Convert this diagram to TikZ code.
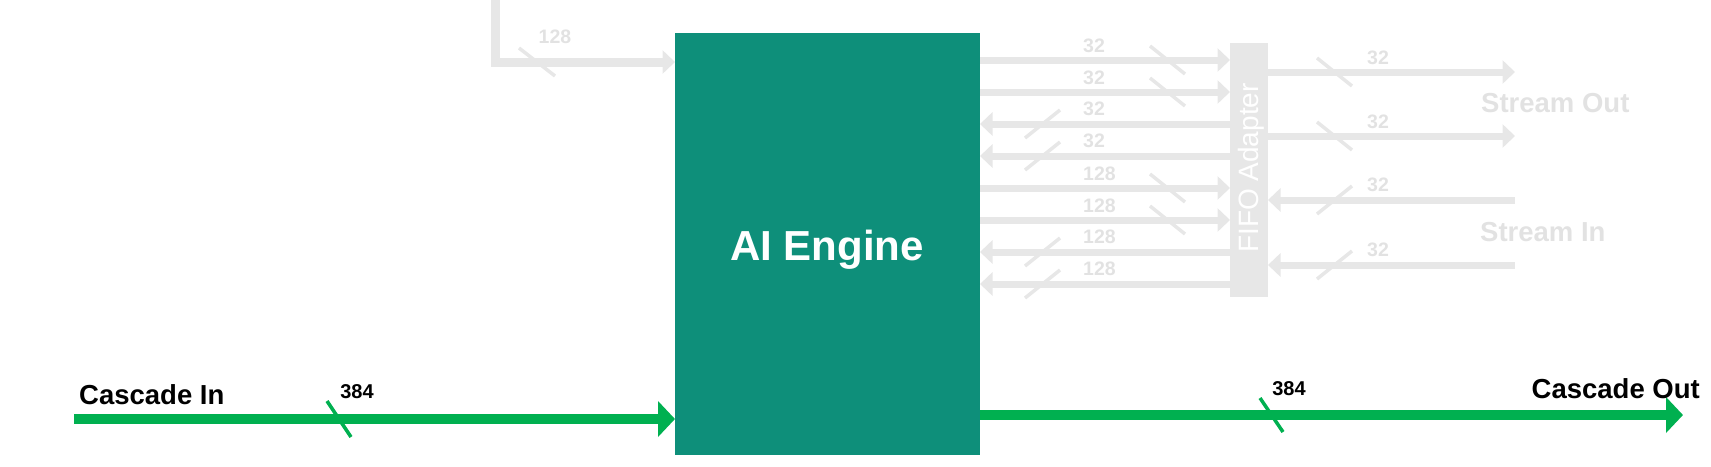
\documentclass[tikz,border=0pt]{standalone}
\usepackage{fontspec}
\setmainfont{Liberation Sans}
\usetikzlibrary{arrows.meta,calc}
\definecolor{aiteal}{RGB}{14,143,122}
\definecolor{casgreen}{RGB}{0,176,80}
\definecolor{lgray}{RGB}{231,231,231}
\definecolor{lgtext}{RGB}{226,226,226}
\begin{document}
\begin{tikzpicture}[x=1pt,y=-1pt,
  glink/.style={draw=lgray, line width=7pt},
  ghead/.style={-{Triangle[length=12.5pt,width=23pt]}},
  gslash/.style={draw=lgray, line width=3.5pt},
  glabel/.style={text=lgtext, font=\bfseries\fontsize{19.5}{20}\selectfont, inner sep=0pt},
  slabel/.style={text=lgtext, font=\bfseries\fontsize{27.5}{28}\selectfont, inner sep=0pt},
  clink/.style={draw=casgreen, line width=10pt, -{Triangle[length=17pt,width=35pt]}},
  cslash/.style={draw=casgreen, line width=3.5pt},
  clabel/.style={text=black, font=\bfseries\fontsize{27.5}{28}\selectfont, inner sep=0pt},
  cnum/.style={text=black, font=\bfseries\fontsize{20}{20}\selectfont, inner sep=0pt}]
\useasboundingbox (0,0) rectangle (1711,466);

% blocks
\node[fill=aiteal, minimum width=305pt, minimum height=422pt, inner sep=0pt, outer sep=0pt] (ai) at (827.5,244) {};
\node[text=white, font=\bfseries\fontsize{42}{42}\selectfont, inner sep=0pt, anchor=base] (ailabel) at (827,260) {AI Engine};
\node[fill=lgray, minimum width=38pt, minimum height=254pt, inner sep=0pt, outer sep=0pt] (fifo) at (1249,170) {};
\node[text=white, font=\fontsize{28}{28}\selectfont, inner sep=0pt, rotate=90] (fifolabel) at (1251,168) {FIFO Adapter};

% top-left input
\coordinate (ltop) at (495.5,0);
\draw[draw=lgray, line width=9pt, ghead] (ltop) |- (ai.west |- 0,62);
\draw[gslash] (519,48) -- (555,76);
\node[glabel] (l128) at (555,37) {128};

% AI Engine -> FIFO
\foreach \y/\l in {60/32, 92/32, 188/128, 220/128} {
  \draw[glink, ghead] (ai.east |- 0,\y) -- (fifo.west |- 0,\y);
  \draw[gslash] (1150,\y-14) -- (1185,\y+14);
  \node[glabel, anchor=west] at (1083,\y-14) {\l};
}
% FIFO -> AI Engine
\foreach \y/\l in {124/32, 156/32, 252/128, 284/128} {
  \draw[glink, ghead] (fifo.west |- 0,\y) -- (ai.east |- 0,\y);
  \draw[gslash] (1025,\y+14) -- (1060,\y-14);
  \node[glabel, anchor=west] at (1083,\y-15) {\l};
}

% Stream Out
\coordinate (so1) at (1515,72);
\coordinate (so2) at (1515,136);
\draw[glink, ghead] (fifo.east |- so1) -- (so1);
\draw[glink, ghead] (fifo.east |- so2) -- (so2);
\draw[gslash] (1317,58) -- (1352,86);
\draw[gslash] (1317,122) -- (1352,150);
\node[glabel] at (1378,58) {32};
\node[glabel] at (1378,122) {32};
\node[slabel, anchor=west] (sout) at (1481,103) {Stream Out};

% Stream In
\coordinate (si1) at (1515,200);
\coordinate (si2) at (1515,265);
\draw[glink, ghead] (si1) -- (fifo.east |- si1);
\draw[glink, ghead] (si2) -- (fifo.east |- si2);
\draw[gslash] (1317,214) -- (1352,186);
\draw[gslash] (1317,279) -- (1352,251);
\node[glabel] at (1378,185) {32};
\node[glabel] at (1378,250) {32};
\node[slabel, anchor=west] (sin) at (1480,232) {Stream In};

% Cascade
\coordinate (cin) at (74,419);
\coordinate (cout) at (1683,415);
\draw[clink] (cin) -- (ai.west |- cin);
\draw[cslash] (327,401) -- (351,437);
\node[cnum] at (357,392) {384};
\node[clabel, anchor=west] (cinl) at (79,395) {Cascade In};

\draw[clink] (ai.east |- cout) -- (cout);
\draw[cslash] (1260,398) -- (1283,432);
\node[cnum] at (1289,389) {384};
\node[clabel, anchor=east] (coutl) at (1700,389) {Cascade Out};
\end{tikzpicture}
\end{document}
